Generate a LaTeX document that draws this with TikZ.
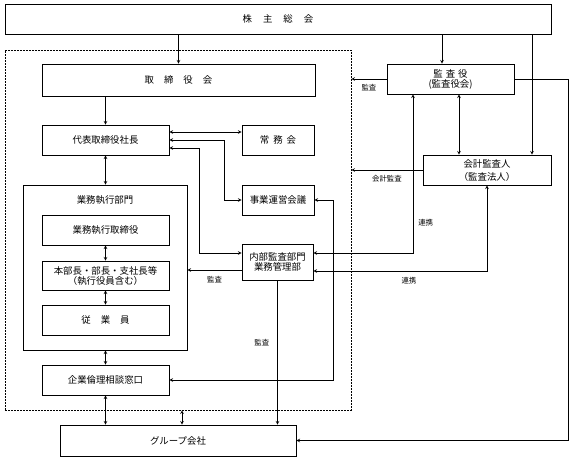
\documentclass[tikz,border=0pt]{standalone}
\usepackage{fontspec}
\setmainfont{Noto Sans CJK JP}
\usepackage{tikz}
\usetikzlibrary{positioning}
\tikzset{c-box/.style={rectangle, draw=black, fill=white, line width=0.9pt, inner sep=0pt, align=center, font=\fontsize{9.4}{12}\selectfont},
c-frame/.style={rectangle, draw=black, dash pattern=on 2pt off 1pt, line width=0.7pt, inner sep=0pt},
c-note/.style={font=\fontsize{7.4}{8}\selectfont, inner sep=1pt},
arrow/.style={line width=0.6pt,->,>=stealth},
arrow2/.style={line width=0.6pt,<->,>=stealth}}

\begin{document}
\begin{tikzpicture}[x=1pt, y=-1pt]
\useasboundingbox (0,0) rectangle (574,461);
\node (n0) [c-box, minimum width=546pt, minimum height=30pt] at (278,19) {株\hspace{11pt}主\hspace{11pt}総\hspace{11pt}会};
\node (n14) [c-frame, minimum width=346pt, minimum height=360pt] at (178,230) {};
\node (n1) [c-box, minimum width=273pt, minimum height=32pt] at (178.5,80) {取\hspace{10pt}締\hspace{10pt}役\hspace{10pt}会};
\node (n11) [c-box, minimum width=127pt, minimum height=30pt] at (450.5,79) {監\hspace{3pt}査\hspace{3pt}役\\[-2pt](監査役会)};
\node (n2) [c-box, minimum width=127pt, minimum height=30pt] at (105.5,140) {代表取締役社長};
\node (n3) [c-box, minimum width=72pt, minimum height=30pt] at (278,140) {常\hspace{4pt}務\hspace{4pt}会};
\node (n4) [c-box, minimum width=72pt, minimum height=30pt] at (278,200) {事業運営会議};
\node (n5) [c-box, minimum width=164pt, minimum height=165pt,
  label={[anchor=north, yshift=-8pt, font=\fontsize{9.4}{12}\selectfont]north:業務執行部門}] at (105,267.5) {};
\node (n6) [c-box, minimum width=127pt, minimum height=30pt] at (105.5,230) {業務執行取締役};
\node (n7) [c-box, minimum width=127pt, minimum height=29pt] at (105.5,275.5) {本部長・部長・支社長等\\[-2pt]（執行役員含む）};
\node (n8) [c-box, minimum width=127pt, minimum height=30pt] at (105.5,320) {従\hspace{10pt}業\hspace{10pt}員};
\node (n9) [c-box, minimum width=127pt, minimum height=30pt] at (105.5,380) {企業倫理相談窓口};
\node (n10) [c-box, minimum width=236pt, minimum height=31pt] at (178,440.5) {グループ会社};
\node (n12) [c-box, minimum width=128pt, minimum height=30pt] at (487,170) {会計監査人\\[1pt]（監査法人）};
\node (n13) [c-box, minimum width=71pt, minimum height=36pt] at (277.5,262) {内部監査部門\\[-2pt]業務管理部};

% line positions
\coordinate (k1) at (442,0);
\coordinate (k2) at (532,0);
\coordinate (k3) at (224,0);
\coordinate (k4) at (199,0);
\coordinate (k5) at (333,0);
\coordinate (k6) at (413,0);
\coordinate (k7) at (459,0);
\coordinate (k8) at (568,0);
\coordinate (k9) at (182,0);
\coordinate (n2a) at ([yshift=8pt]n2.east);
\coordinate (n2b) at ([yshift=-8pt]n2.east);
\coordinate (n13a) at ([yshift=9pt]n13.west);
\coordinate (n13b) at ([yshift=-8pt]n13.west);
\coordinate (n13c) at ([yshift=9pt]n13.east);
\coordinate (n13d) at ([yshift=-9pt]n13.east);

\draw [arrow] (n1.north |- n0.south) -- (n1.north);
\draw [arrow] (k1 |- n0.south) -- (k1 |- n11.north);
\draw [arrow] (k2 |- n0.south) -- (k2 |- n12.north);
\draw [arrow] (n2.north |- n1.south) -- (n2.north);
\draw [arrow2] (n2.south) -- (n2.south |- n5.north);
\draw [arrow2] (n2a) -- (n2a -| n3.west);
\draw [arrow2] (n2.east) -- (k3 |- n2.east) |- (n4.west);
\draw [arrow2] (n2b) -- (k4 |- n2b) -- (k4 |- n13a) -- (n13a);
\draw [arrow2] (n9.east) -- (k5 |- n9.east) -- (k5 |- n4.east) -- (n4.east);
\draw [arrow] (n11.west) -- node[c-note, below=4pt] (l1) {監査} (n11.west -| n14.east);
\draw [arrow] (n11.east) -- (k8 |- n11.east) -- (k8 |- n10.east) -- (n10.east);
\draw [arrow2] (k7 |- n11.south) -- (k7 |- n12.north);
\draw [arrow] (n12.west) -- node[c-note, below=4pt] (l2) {会計監査} (n12.west -| n14.east);
\draw [arrow2] (n13c) -- (k6 |- n13c) -- node[c-note, right=4pt, pos=0.19] (l3) {連携} (k6 |- n11.south);
\draw [arrow2] (n13d) -- node[c-note, below=5pt, pos=0.55] (l4) {連携} (n12.south |- n13d) -- (n12.south);
\draw [arrow] (n13b) -- node[c-note, below=5pt] (l5) {監査} (n13b -| n5.east);
\draw [arrow] (n13.south) -- node[c-note, left=7pt, pos=0.43] (l6) {監査} (n13.south |- n10.north);
\draw [arrow2] (n6.south) -- (n7.north);
\draw [arrow2] (n7.south) -- (n8.north);
\draw [arrow2] (n9.north |- n5.south) -- (n9.north);
\draw [arrow2] (n9.south) -- (n9.south |- n10.north);
\draw [arrow2] (k9 |- n14.south) -- (k9 |- n10.north);
\end{tikzpicture}
\end{document}
